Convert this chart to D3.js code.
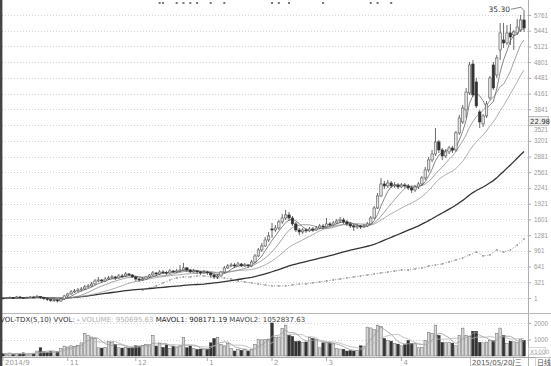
<!DOCTYPE html>
<html>
<head>
<meta charset="utf-8">
<script src="https://cdn.jsdelivr.net/npm/d3@7"></script>
<style>
body { margin: 0; background: #fff; }
svg { display: block; font-family: "DejaVu Sans", "Noto Sans CJK SC", sans-serif; }
</style>
</head>
<body>
<script>

// daily candles
var openP = [
3.33, 3.28, 3.33, 3.39, 3.33, 3.44, 3.39, 3.33, 3.39, 3.44,
3.39, 3.50, 3.39, 3.28, 3.17, 3.06, 3.11, 3.00, 3.22, 3.56,
3.78, 4.00, 4.11, 4.22, 4.33, 4.56, 4.67, 4.89, 5.22, 5.33,
5.22, 5.44, 5.56, 5.67, 5.56, 5.78, 5.78, 6.00, 5.89, 5.67,
5.44, 5.33, 5.44, 5.67, 5.89, 6.11, 6.00, 6.22, 6.17, 6.11,
6.33, 6.22, 6.33, 6.44, 6.67, 6.44, 6.22, 6.33, 6.22, 6.11,
6.22, 6.11, 5.89, 5.67, 5.78, 6.22, 6.67, 6.89, 7.00, 6.89,
7.11, 6.89, 7.00, 6.89, 7.33, 8.00, 8.67, 9.11, 9.78, 11.00,
10.89, 11.11, 11.78, 12.22, 12.56, 12.22, 11.56, 10.89, 10.67, 10.89,
10.78, 11.00, 10.89, 11.11, 11.33, 11.22, 11.56, 11.44, 11.67, 11.89,
12.00, 11.78, 11.56, 11.33, 11.22, 11.33, 11.22, 11.33, 11.56, 12.22,
13.33, 14.67, 16.00, 15.78, 16.11, 15.78, 15.89, 15.67, 15.89, 15.78,
15.56, 15.33, 15.67, 16.00, 16.67, 17.56, 18.67, 19.33, 20.67, 19.78,
19.11, 19.56, 20.00, 19.78, 21.67, 22.89, 24.22, 26.11, 29.33, 27.33,
24.00, 22.67, 23.56, 25.56, 29.22, 28.11, 30.89, 32.00, 31.67, 32.78,
32.56, 32.78, 33.11, 34.22
];
var closeP = [
3.28, 3.33, 3.39, 3.33, 3.44, 3.39, 3.33, 3.39, 3.44, 3.39,
3.50, 3.39, 3.28, 3.17, 3.06, 3.11, 3.00, 3.22, 3.56, 3.78,
4.00, 4.11, 4.22, 4.33, 4.56, 4.67, 4.89, 5.22, 5.33, 5.22,
5.44, 5.56, 5.67, 5.56, 5.78, 5.72, 6.00, 5.89, 5.67, 5.44,
5.33, 5.44, 5.67, 5.89, 6.11, 6.00, 6.22, 6.17, 6.11, 6.33,
6.22, 6.33, 6.44, 6.67, 6.44, 6.22, 6.33, 6.22, 6.11, 6.22,
6.11, 5.89, 5.67, 5.78, 6.22, 6.67, 6.89, 7.00, 6.89, 7.11,
6.89, 7.00, 6.89, 7.33, 8.00, 8.67, 9.11, 9.78, 10.22, 10.89,
11.11, 11.78, 12.22, 12.56, 12.22, 11.56, 10.89, 10.67, 10.89, 10.78,
11.00, 10.89, 11.11, 11.33, 11.22, 11.56, 11.44, 11.67, 11.89, 12.00,
11.78, 11.56, 11.33, 11.22, 11.33, 11.22, 11.33, 11.56, 12.22, 13.33,
14.67, 16.00, 15.78, 16.11, 15.78, 15.89, 15.67, 15.89, 15.78, 15.56,
15.33, 15.67, 16.00, 16.67, 17.56, 18.67, 19.33, 20.67, 19.78, 19.11,
19.56, 20.00, 19.78, 21.67, 23.33, 24.44, 26.22, 29.22, 25.89, 24.67,
22.89, 23.56, 24.89, 27.78, 26.67, 30.00, 32.78, 31.67, 32.78, 32.33,
32.89, 33.44, 34.22, 33.33
];
var highP = [
3.44, 3.44, 3.50, 3.44, 3.56, 3.56, 3.44, 3.50, 3.56, 3.56,
3.67, 3.56, 3.44, 3.33, 3.22, 3.22, 3.17, 3.33, 3.67, 3.89,
4.22, 4.33, 4.44, 4.56, 4.78, 4.89, 5.11, 5.44, 5.67, 5.44,
5.67, 5.78, 5.89, 5.78, 6.00, 6.00, 6.22, 6.11, 6.00, 5.78,
5.56, 5.67, 5.78, 6.00, 6.33, 6.22, 6.44, 6.44, 6.33, 6.56,
6.44, 6.56, 7.00, 7.22, 6.78, 6.56, 6.56, 6.44, 6.33, 6.44,
6.33, 6.22, 6.00, 6.00, 6.33, 6.89, 7.11, 7.22, 7.22, 7.33,
7.22, 7.22, 7.11, 7.56, 8.22, 8.89, 9.44, 10.11, 10.67, 11.67,
11.44, 12.00, 12.67, 13.11, 12.89, 12.44, 11.78, 11.11, 11.11, 11.11,
11.22, 11.22, 11.33, 11.56, 11.56, 12.22, 11.78, 11.89, 12.11, 12.33,
12.22, 12.00, 11.78, 11.56, 11.56, 11.44, 11.56, 11.78, 12.44, 13.56,
15.00, 16.67, 16.33, 16.44, 16.33, 16.22, 16.11, 16.11, 16.11, 16.00,
15.78, 15.89, 16.22, 16.89, 17.89, 19.00, 19.78, 22.22, 20.89, 20.00,
19.89, 20.22, 20.22, 21.89, 23.67, 24.78, 26.67, 29.56, 29.78, 27.78,
24.22, 23.78, 25.22, 28.00, 29.56, 30.33, 33.89, 33.89, 33.67, 33.78,
33.11, 34.33, 34.78, 35.30
];
var lowP = [
3.17, 3.22, 3.22, 3.22, 3.28, 3.28, 3.22, 3.22, 3.33, 3.28,
3.33, 3.22, 3.11, 3.00, 2.89, 2.89, 2.83, 2.89, 3.11, 3.44,
3.67, 3.89, 4.00, 4.11, 4.22, 4.44, 4.56, 4.78, 5.11, 5.00,
5.11, 5.33, 5.44, 5.33, 5.44, 5.56, 5.67, 5.78, 5.56, 5.22,
5.11, 5.22, 5.33, 5.56, 5.78, 5.78, 5.89, 6.00, 5.89, 6.00,
6.11, 6.11, 6.22, 6.33, 6.22, 6.11, 6.11, 6.00, 5.89, 6.00,
5.89, 5.67, 5.44, 5.44, 5.67, 6.11, 6.56, 6.78, 6.67, 6.78,
6.78, 6.78, 6.67, 6.78, 7.22, 7.89, 8.44, 9.00, 9.56, 10.00,
10.67, 10.89, 11.56, 12.00, 11.89, 11.33, 10.67, 10.33, 10.44, 10.56,
10.67, 10.67, 10.78, 11.00, 11.00, 11.11, 11.22, 11.33, 11.56, 11.67,
11.56, 11.33, 11.11, 10.78, 11.00, 11.00, 11.11, 11.22, 11.44, 12.11,
13.22, 14.56, 15.44, 15.56, 15.56, 15.56, 15.44, 15.56, 15.56, 15.33,
15.00, 15.11, 15.44, 15.78, 16.44, 17.33, 18.44, 19.11, 19.44, 18.67,
18.89, 19.33, 19.44, 19.56, 21.44, 22.67, 23.33, 25.89, 25.67, 24.44,
22.22, 22.33, 23.33, 25.33, 26.44, 27.78, 29.78, 31.11, 31.44, 31.44,
30.89, 32.56, 32.89, 32.89
];
// volume in the panel's own units (x1000)
var volume = [
150, 120, 180, 100, 160, 130, 190, 110, 150, 170,
300, 500, 250, 220, 280, 240, 260, 450, 600, 550,
620, 580, 650, 800, 1375, 1250, 1150, 1060, 500, 480,
520, 870, 820, 700, 500, 480, 520, 480, 500, 620,
600, 650, 700, 680, 1250, 600, 750, 520, 680, 450,
600, 500, 620, 1120, 500, 620, 450, 400, 420, 380,
420, 800, 1060, 1120, 700, 600, 750, 450, 300, 400,
350, 420, 300, 380, 700, 1000, 980, 1000, 1020, 2000,
1120, 1150, 1680, 1870, 1250, 1180, 870, 900, 820, 850,
1120, 1060, 1000, 500, 800, 820, 800, 780, 450, 420,
400, 300, 320, 300, 340, 620, 600, 1750, 1700, 1620,
1870, 1800, 1060, 940, 900, 750, 720, 620, 680, 940,
750, 740, 500, 520, 940, 1440, 1380, 1870, 1250, 820,
800, 820, 780, 620, 1250, 1690, 1250, 1200, 1500, 1500,
820, 800, 840, 940, 920, 1380, 1690, 1250, 750, 900,
860, 830, 999, 951
];
// dotted overlay line, every 2nd day from day 41
var cmpStart = 41, cmpStep = 2;
var cmpLine = [
4.22, 4.44, 4.67, 5.00, 5.33, 5.56, 5.67, 5.67, 5.78, 5.78,
5.67, 5.56, 5.56, 5.44, 5.22, 5.11, 5.00, 4.89, 4.78, 4.67,
4.67, 4.67, 4.78, 4.89, 4.89, 5.00, 5.11, 5.22, 5.33, 5.44,
5.56, 5.67, 5.78, 5.89, 6.00, 6.11, 6.22, 6.33, 6.44, 6.44,
6.56, 6.67, 6.89, 7.00, 7.11, 7.33, 7.56, 7.78, 8.11, 8.44,
8.00, 8.11, 8.67, 8.44, 8.67, 9.22, 9.89
];

var axisLabels = [5761, 5441, 5121, 4801, 4481, 4161, 3841, 3521, 3201, 2881, 2561, 2241, 1921, 1601, 1281, 961, 641, 321, 1];
var volLabels = [2000, 1000];
var monthIdx = [0, 19, 39, 60, 79, 95, 117];
var monthText = ["2014/9", "11", "12", "1", "2", "3", "4"];
var infoIdx = [46, 47, 51, 53, 55, 57, 61, 65, 79, 81, 84, 94, 108, 110, 114];
var cursorPrice = 22.98;
var cursorDate = "2015/05/20/三";

var w = 551;
var h = 366;
var plotR = 528;
var n = closeP.length;

var svg = d3.select("body")
        .append("svg")
        .attr("width", w)
        .attr("height", h);

var x = d3.scaleLinear().domain([0, n - 1]).range([3, 524]);
var y = d3.scaleLinear().domain([3.44, 35.44]).range([297, 9]);
var yLab = d3.scaleLinear().domain([1, 5761]).range([298, 15]);
var yVol = d3.scaleLinear().domain([0, 2000]).range([356, 323]);

function ma(arr, k) {
  return arr.map(function(d, i) {
    var s = arr.slice(Math.max(0, i - k + 1), i + 1);
    return d3.mean(s);
  });
}

// grid
svg.selectAll("line.grid")
    .data(axisLabels)
    .enter()
    .append("line")
    .attr("x1", 2).attr("x2", plotR)
    .attr("y1", function(d) { return Math.round(yLab(d)) + 0.5; })
    .attr("y2", function(d) { return Math.round(yLab(d)) + 0.5; })
    .attr("stroke", "#d4d4d4")
    .attr("stroke-dasharray", "1,2");

svg.selectAll("line.vgrid")
    .data(volLabels)
    .enter()
    .append("line")
    .attr("x1", 2).attr("x2", plotR)
    .attr("y1", function(d) { return Math.round(yVol(d)) + 0.5; })
    .attr("y2", function(d) { return Math.round(yVol(d)) + 0.5; })
    .attr("stroke", "#d4d4d4")
    .attr("stroke-dasharray", "1,2");

// frame lines
svg.append("line").attr("x1", plotR + 0.5).attr("x2", plotR + 0.5).attr("y1", 0).attr("y2", 366).attr("stroke", "#b0b0b0");
svg.append("line").attr("x1", 0).attr("x2", w).attr("y1", 313.5).attr("y2", 313.5).attr("stroke", "#b8b8b8");
svg.append("line").attr("x1", 0).attr("x2", w).attr("y1", 357.5).attr("y2", 357.5).attr("stroke", "#aaa");
svg.append("line").attr("x1", 1.2).attr("x2", 1.2).attr("y1", 0).attr("y2", h).attr("stroke", "#444").attr("stroke-width", 2.4);

// right axes
var axisG = svg.append("g")
    .attr("transform", "translate(" + plotR + ",0)")
    .call(d3.axisRight(yLab).tickValues(axisLabels).tickSize(3).tickPadding(3).tickFormat(d3.format("d")));
var volAxisG = svg.append("g")
    .attr("transform", "translate(" + plotR + ",0)")
    .call(d3.axisRight(yVol).tickValues(volLabels).tickSize(3).tickPadding(3).tickFormat(d3.format("d")));
[axisG, volAxisG].forEach(function(g) {
  g.select(".domain").remove();
  g.selectAll("line").attr("stroke", "#aaa");
  g.selectAll("text").attr("fill", "#999").style("font-size", "6.3px");
});
// label sitting under the cursor box peeks out below it
axisG.selectAll(".tick text")
    .filter(function(d) { return Math.abs(yLab(d) - y(cursorPrice)) < 8; })
    .attr("dy", "0.95em");

// dotted overlay
var cmpX = function(d, k) { return x(cmpStart + k * cmpStep); };
svg.append("path")
    .datum(cmpLine)
    .attr("d", d3.line().x(cmpX).y(function(d) { return y(d); }))
    .attr("fill", "none")
    .attr("stroke", "#888")
    .attr("stroke-width", 0.8)
    .attr("stroke-dasharray", "1.2,1.6");
svg.selectAll("circle.cmp")
    .data(cmpLine)
    .enter()
    .append("circle")
    .attr("cx", cmpX)
    .attr("cy", function(d) { return y(d); })
    .attr("r", 0.9)
    .attr("fill", "#999");

// moving averages
var maDefs = [
  { k: 60, color: "#333", wd: 1.3 },
  { k: 20, color: "#9a9a9a", wd: 0.8 },
  { k: 10, color: "#8a8a8a", wd: 0.8 },
  { k: 5, color: "#666", wd: 0.8 }
];
var lineP = d3.line().x(function(d, i) { return x(i); }).y(function(d) { return y(d); });
maDefs.forEach(function(m) {
  svg.append("path")
      .datum(ma(closeP, m.k))
      .attr("d", lineP)
      .attr("fill", "none")
      .attr("stroke", m.color)
      .attr("stroke-width", m.wd);
});

// candles
var idx = d3.range(n);
svg.selectAll("line.wick")
    .data(idx)
    .enter()
    .append("line")
    .attr("x1", function(i) { return x(i); })
    .attr("x2", function(i) { return x(i); })
    .attr("y1", function(i) { return y(highP[i]); })
    .attr("y2", function(i) { return y(lowP[i]); })
    .attr("stroke", "#444")
    .attr("stroke-width", 0.8);

svg.selectAll("rect.body")
    .data(idx)
    .enter()
    .append("rect")
    .attr("x", function(i) { return x(i) - 1.2; })
    .attr("width", 2.4)
    .attr("y", function(i) { return y(Math.max(openP[i], closeP[i])); })
    .attr("height", function(i) { return Math.max(0.8, Math.abs(y(openP[i]) - y(closeP[i]))); })
    .attr("fill", function(i) { return closeP[i] >= openP[i] ? "#e4e4e4" : "#333"; })
    .attr("stroke", function(i) { return closeP[i] >= openP[i] ? "#555" : "#333"; })
    .attr("stroke-width", 0.6);

// volume
svg.selectAll("rect.vol")
    .data(idx)
    .enter()
    .append("rect")
    .attr("x", function(i) { return x(i) - 1.3; })
    .attr("width", 2.6)
    .attr("y", function(i) { return yVol(volume[i]); })
    .attr("height", function(i) { return yVol(0) - yVol(volume[i]); })
    .attr("fill", function(i) { return closeP[i] >= openP[i] ? "#d8d8d8" : "#333"; })
    .attr("stroke", function(i) { return closeP[i] >= openP[i] ? "#666" : "#333"; })
    .attr("stroke-width", 0.5);

var lineV = d3.line().x(function(d, i) { return x(i); }).y(function(d) { return yVol(d); });
[{ k: 5, color: "#999" }, { k: 10, color: "#b5b5b5" }].forEach(function(m) {
  svg.append("path")
      .datum(ma(volume, m.k))
      .attr("d", lineV)
      .attr("fill", "none")
      .attr("stroke", m.color)
      .attr("stroke-width", 0.8);
});

// info markers at top
svg.selectAll("rect.info")
    .data(infoIdx)
    .enter()
    .append("rect")
    .attr("x", function(d) { return x(d) - 1; })
    .attr("y", 2)
    .attr("width", 2)
    .attr("height", 2)
    .attr("fill", "#777");

// high marker
var iMax = d3.maxIndex(highP);
var hx = x(iMax), hy = y(highP[iMax]);
svg.append("polyline")
    .attr("points", [[hx - 13, hy - 1], [hx - 3, hy - 3], [hx - 0.5, hy]].join(" "))
    .attr("fill", "none")
    .attr("stroke", "#555")
    .attr("stroke-width", 0.7);
svg.append("text")
    .attr("x", hx - 14).attr("y", hy + 2)
    .attr("text-anchor", "end")
    .style("font-size", "7.5px")
    .attr("fill", "#333")
    .text(d3.format(".2f")(highP[iMax]));

// cursor price box
var cy = y(cursorPrice);
svg.append("rect").attr("x", plotR + 0.5).attr("y", cy - 4.5).attr("width", 20).attr("height", 9)
    .attr("fill", "#ececec").attr("stroke", "#999").attr("stroke-width", 0.6);
svg.append("text").attr("x", plotR + 2).attr("y", cy + 2.5)
    .style("font-size", "7px").attr("fill", "#333").text(d3.format(".2f")(cursorPrice));

// volume unit box
svg.append("rect").attr("x", plotR + 0.5).attr("y", 347.5).attr("width", 17).attr("height", 7)
    .attr("fill", "#fff").attr("stroke", "#bbb").attr("stroke-width", 0.6);
svg.append("text").attr("x", plotR + 2).attr("y", 353.5)
    .style("font-size", "6px").attr("fill", "#aaa").text("X1000");

// volume header
var hdr = svg.append("text").attr("x", 0).attr("y", 321.5).style("font-size", "7px");
hdr.append("tspan").attr("fill", "#333").text("VOL-TDX(5,10) VVOL: -  ");
hdr.append("tspan").attr("fill", "#b0b0b0").text("VOLUME: 950695.63  ");
hdr.append("tspan").attr("fill", "#222").text("MAVOL1: 908171.19  ");
hdr.append("tspan").attr("fill", "#444").text("MAVOL2: 1052837.63");

// month axis
svg.selectAll("line.mt")
    .data(monthIdx)
    .enter()
    .append("line")
    .attr("x1", function(d) { return x(d); })
    .attr("x2", function(d) { return x(d); })
    .attr("y1", 357.5).attr("y2", 361)
    .attr("stroke", "#aaa");
svg.selectAll("text.mt")
    .data(monthIdx)
    .enter()
    .append("text")
    .attr("x", function(d) { return x(d) + 2; })
    .attr("y", 364.5)
    .style("font-size", "7px")
    .attr("fill", "#999")
    .text(function(d, k) { return monthText[k]; });

svg.append("rect").attr("x", 470.5).attr("y", 357.5).attr("width", 43).attr("height", 8.5)
    .attr("fill", "#fff").attr("stroke", "#999").attr("stroke-width", 0.6);
svg.append("text").attr("x", 472).attr("y", 364.5)
    .style("font-size", "7px").attr("fill", "#555").text(cursorDate);

svg.append("rect").attr("x", 535.5).attr("y", 357.5).attr("width", 14).attr("height", 8.5)
    .attr("fill", "#fff").attr("stroke", "#bbb").attr("stroke-width", 0.6);
svg.append("text").attr("x", 537).attr("y", 365)
    .style("font-size", "7px").attr("fill", "#555").text("日线");

</script>
</body>
</html>
